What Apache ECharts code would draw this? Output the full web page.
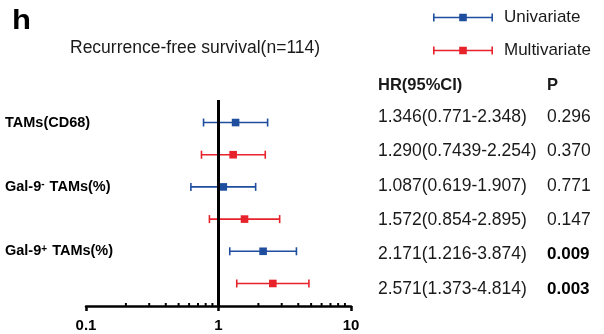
<!DOCTYPE html>
<html>
<head>
<meta charset="utf-8">
<script src="https://cdn.jsdelivr.net/npm/echarts@6/dist/echarts.min.js"></script>
<style>
    html, body { margin: 0; padding: 0; background: #fff; }
    #chart { width: 604px; height: 334px; }
</style>
</head>
<body>
<div id="chart"></div>
<script>
// factors (rich text, superscripts in {sup|..})
const factors = ['TAMs(CD68)', 'Gal-9{sup|-} TAMs(%)', 'Gal-9{sup|+} TAMs(%)'];

// univariate analysis
const uniHR = [1.346, 1.087, 2.171];
const uniLo = [0.771, 0.619, 1.216];
const uniHi = [2.348, 1.907, 3.874];
const uniP = ['0.296', '0.771', '0.009'];

// multivariate analysis
const multiHR = [1.290, 1.572, 2.571];
const multiLo = [0.7439, 0.854, 1.373];
const multiHi = [2.254, 2.895, 4.814];
const multiP = ['0.370', '0.147', '0.003'];

// x axis
const xTicks = [0.1, 1, 10];
const xMinorTicks = [0.2, 0.3, 0.4, 0.5, 0.6, 0.7, 0.8, 0.9, 2, 3, 4, 5, 6, 7, 8, 9];

const blue = '#1f4e9f';
const red = '#e8222a';
const yMin = -0.7, yMax = 5.7;

function fmt(v) {
    let s = String(v);
    let d = s.indexOf('.') < 0 ? 0 : s.length - s.indexOf('.') - 1;
    return d >= 3 ? s : v.toFixed(3);
}

// interleave into rows: uni, multi, uni, multi...
let uniData = [], multiData = [], tableRows = [];
factors.forEach((f, i) => {
    uniData.push([2 * i, uniHR[i], uniLo[i], uniHi[i]]);
    multiData.push([2 * i + 1, multiHR[i], multiLo[i], multiHi[i]]);
    tableRows.push({ ci: fmt(uniHR[i]) + '(' + fmt(uniLo[i]) + '-' + fmt(uniHi[i]) + ')', p: uniP[i] });
    tableRows.push({ ci: fmt(multiHR[i]) + '(' + fmt(multiLo[i]) + '-' + fmt(multiHi[i]) + ')', p: multiP[i] });
});

function renderErrorBar(params, api) {
    let row = api.value(0);
    let c = api.coord([api.value(1), row]);
    let l = api.coord([api.value(2), row]);
    let h = api.coord([api.value(3), row]);
    let color = api.visual('color');
    let cap = 4, half = 3.8;
    let ls = { stroke: color, lineWidth: 1.6 };
    return {
        type: 'group',
        children: [
            { type: 'line', shape: { x1: l[0], y1: l[1], x2: h[0], y2: h[1] }, style: ls },
            { type: 'line', shape: { x1: l[0], y1: l[1] - cap, x2: l[0], y2: l[1] + cap }, style: ls },
            { type: 'line', shape: { x1: h[0], y1: h[1] - cap, x2: h[0], y2: h[1] + cap }, style: ls },
            { type: 'rect', shape: { x: c[0] - half, y: c[1] - half, width: 2 * half, height: 2 * half }, style: { fill: color } }
        ]
    };
}

function renderMinorTick(params, api) {
    let p = api.coord([api.value(0), yMax]);
    return {
        type: 'line',
        shape: { x1: p[0], y1: p[1], x2: p[0], y2: p[1] - 3 },
        style: { stroke: '#000', lineWidth: 2 }
    };
}

const legendIcon = 'path://M0,0H1.6V8H0Z M58.4,0H60V8H58.4Z M0,3.2H60V4.8H0Z M26.2,0.3H33.8V7.7H26.2Z';
const textColor = '#1a1a1a';

let chart = echarts.init(document.getElementById('chart'));
chart.setOption({
    backgroundColor: '#fff',
    animation: false,
    textStyle: { fontFamily: 'Liberation Sans, Arial, sans-serif' },
    grid: { left: 86, right: 253, top: 100, bottom: 28 },
    legend: {
        orient: 'vertical',
        left: 433,
        top: 9,
        padding: 0,
        itemWidth: 60,
        itemHeight: 8,
        itemGap: 16,
        icon: legendIcon,
        textStyle: { fontSize: 17, color: textColor, padding: [0, 0, 0, 6] },
        data: ['Univariate', 'Multivariate']
    },
    graphic: [
        { type: 'text', left: 12, top: 8, scaleX: 1.15, style: { text: 'h', font: 'bold 27px Liberation Sans, Arial', fill: '#000' } },
        { type: 'text', left: 70, top: 39, style: { text: 'Recurrence-free survival(n=114)', font: '17.5px Liberation Sans, Arial', fill: textColor } },
        { type: 'text', left: 378, top: 77, style: { text: 'HR(95%CI)', font: 'bold 16.5px Liberation Sans, Arial', fill: textColor } },
        { type: 'text', left: 547, top: 77, style: { text: 'P', font: 'bold 16.5px Liberation Sans, Arial', fill: textColor } }
    ],
    xAxis: {
        type: 'log',
        logBase: 10,
        min: 0.1,
        max: 10,
        splitLine: { show: false },
        axisLine: { onZero: false, lineStyle: { color: '#000', width: 2.5 } },
        axisTick: { length: 5, lineStyle: { color: '#000', width: 2.5 } },
        axisLabel: {
            margin: 12,
            fontSize: 15,
            fontWeight: 'bold',
            color: '#000',
            formatter: v => (xTicks.indexOf(v) >= 0 ? String(v) : '')
        }
    },
    yAxis: [{
        type: 'value',
        min: yMin,
        max: yMax,
        inverse: true,
        splitLine: { show: false },
        axisLine: { show: false },
        axisTick: { show: false },
        axisLabel: {
            customValues: [0, 2, 4],
            align: 'left',
            margin: 81,
            formatter: v => '{b|' + factors[v / 2].replace(/\{sup\|(.)\}/, '}{sup|$1}{b|') + '}',
            rich: {
                b: { fontSize: 14.5, fontWeight: 'bold', color: '#000' },
                sup: { fontSize: 10, fontWeight: 'bold', color: '#000', verticalAlign: 'top', padding: [0, 1, 0, 0] }
            }
        }
    }, {
        type: 'category',
        inverse: true,
        position: 'right',
        data: tableRows.map((r, i) => String(i)),
        axisLine: { show: false },
        axisTick: { show: false },
        splitLine: { show: false },
        axisLabel: {
            interval: 0,
            align: 'left',
            margin: 27,
            formatter: (v, i) => {
                let r = tableRows[i];
                let pStyle = parseFloat(r.p) < 0.05 ? 'pb' : 'p';
                return '{ci|' + r.ci + '}{' + pStyle + '|' + r.p + '}';
            },
            rich: {
                ci: { fontSize: 17.5, color: textColor, width: 169 },
                p: { fontSize: 17.5, color: textColor },
                pb: { fontSize: 17, fontWeight: 'bold', color: '#000' }
            }
        }
    }],
    series: [{
        name: 'Univariate',
        type: 'custom',
        color: blue,
        renderItem: renderErrorBar,
        encode: { x: [1, 2, 3], y: 0 },
        data: uniData,
        z: 3,
        markLine: {
            silent: true,
            symbol: 'none',
            label: { show: false },
            lineStyle: { color: '#000', width: 3, type: 'solid' },
            data: [{ xAxis: 1 }]
        }
    }, {
        name: 'Multivariate',
        type: 'custom',
        color: red,
        renderItem: renderErrorBar,
        encode: { x: [1, 2, 3], y: 0 },
        data: multiData,
        z: 3
    }, {
        type: 'custom',
        silent: true,
        renderItem: renderMinorTick,
        encode: { x: 0 },
        data: xMinorTicks.map(v => [v]),
        z: 4
    }]
});

window.addEventListener('resize', function() {
    setTimeout(() => {
        chart.resize();
    }, 500);
});
</script>
</body>
</html>
